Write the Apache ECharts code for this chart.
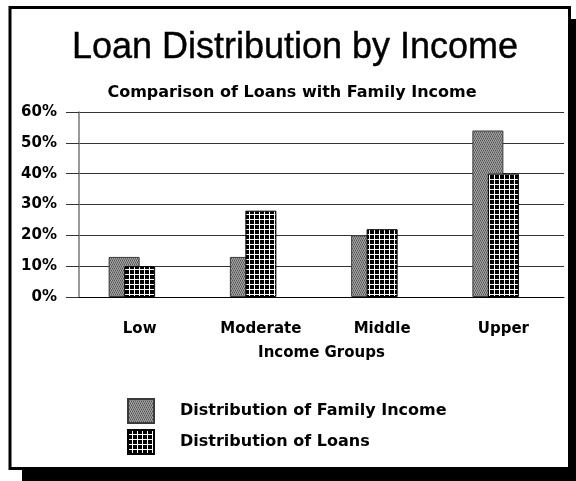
<!DOCTYPE html>
<html>
<head>
<meta charset="utf-8">
<style>
  html, body { margin: 0; padding: 0; background: #ffffff; }
  #chart { width: 576px; height: 481px; }
</style>
<script src="https://cdn.jsdelivr.net/npm/echarts@6/dist/echarts.min.js"></script>
</head>
<body>
<div id="chart"></div>
<script>
// Income groups and the share (%) each series holds in them
const categories = ['Low', 'Moderate', 'Middle', 'Upper'];
const familyIncome = [13, 13, 20, 54];
const loans = [10, 28, 22, 40];
const yTicks = [0, 10, 20, 30, 40, 50, 60];

const LABEL_FONT = '"DejaVu Sans", sans-serif';

// Fine gray stipple used for the family income bars
function stipplePattern() {
  const c = document.createElement('canvas');
  c.width = 4; c.height = 4;
  const g = c.getContext('2d');
  g.fillStyle = '#858585'; g.fillRect(0, 0, 4, 4);
  g.fillStyle = '#555555';
  g.fillRect(0, 0, 1, 1); g.fillRect(2, 0, 1, 1);
  g.fillRect(1, 2, 1, 1); g.fillRect(3, 2, 1, 1);
  g.fillStyle = '#a8a8a8';
  g.fillRect(1, 0, 1, 1); g.fillRect(3, 0, 1, 1);
  g.fillRect(0, 2, 1, 1); g.fillRect(2, 2, 1, 1);
  return c;
}

// Black cells separated by thin white lines for the loan bars
function gridPattern() {
  const c = document.createElement('canvas');
  c.width = 5; c.height = 5;
  const g = c.getContext('2d');
  g.fillStyle = '#ffffff'; g.fillRect(0, 0, 5, 5);
  g.fillStyle = '#000000'; g.fillRect(0, 0, 4, 4);
  return c;
}

const chart = echarts.init(document.getElementById('chart'), null, { renderer: 'canvas' });

const barWidth = 31;

chart.setOption({
  backgroundColor: '#ffffff',
  animation: false,
  graphic: [
    // drop shadow behind the frame
    { type: 'rect', z: -10, silent: true,
      shape: { x: 22, y: 19, width: 570, height: 480 },
      style: { fill: '#000000' } },
    // framed white panel
    { type: 'rect', z: -9, silent: true,
      shape: { x: 10, y: 7.5, width: 559.5, height: 461 },
      style: { fill: '#ffffff', stroke: '#000000', lineWidth: 3 } }
  ],
  title: [
    { text: 'Loan Distribution by Income', left: 290, top: 25, textAlign: 'center',
      textStyle: { fontFamily: '"Liberation Sans", Arial, sans-serif', fontSize: 36,
                   fontWeight: 'normal', color: '#000000',
                   textBorderColor: '#000000', textBorderWidth: 0.4 } },
    { text: 'Comparison of Loans with Family Income', left: 287, top: 80, textAlign: 'center',
      textStyle: { fontFamily: LABEL_FONT, fontSize: 16, fontWeight: 'bold', color: '#000000' } }
  ],
  legend: {
    orient: 'vertical', left: 127, top: 398, padding: 0,
    icon: 'rect',
    itemWidth: 26, itemHeight: 24, itemGap: 5,
    data: ['Distribution of Family Income', 'Distribution of Loans'],
    textStyle: { fontFamily: LABEL_FONT, fontSize: 16, fontWeight: 'bold', color: '#000000',
                 padding: [0, 0, 0, 21] }
  },
  grid: { left: 79, right: 12, top: 112, bottom: 184, containLabel: false },
  xAxis: [
    {
      type: 'category', data: categories,
      name: 'Income Groups', nameLocation: 'middle', nameGap: 49,
      nameTextStyle: { fontFamily: LABEL_FONT, fontSize: 15, fontWeight: 'bold', color: '#000000' },
      axisLine: { lineStyle: { color: '#000000', width: 1 } },
      axisTick: { alignWithLabel: true, length: 12, lineStyle: { color: '#555555' } },
      axisLabel: { margin: 25, fontFamily: LABEL_FONT, fontSize: 15, fontWeight: 'bold', color: '#000000' }
    },
    {
      // small marks at the category boundaries
      type: 'category', data: categories, position: 'bottom',
      axisLine: { show: false },
      axisTick: { length: 2, lineStyle: { color: '#000000', width: 2 } },
      axisLabel: { show: false }
    }
  ],
  yAxis: {
    type: 'value', min: yTicks[0], max: yTicks[yTicks.length - 1], interval: 10,
    axisLine: { show: true, lineStyle: { color: '#777777', width: 1.5 } },
    axisTick: { show: true, length: 13, lineStyle: { color: '#333333' } },
    axisLabel: { margin: 22, formatter: '{value}%', fontFamily: LABEL_FONT, fontSize: 15,
                 fontWeight: 'bold', color: '#000000' },
    splitLine: { lineStyle: { color: '#333333', width: 1 } }
  },
  series: [
    {
      name: 'Distribution of Family Income', type: 'bar', data: familyIncome,
      barWidth: barWidth, barGap: '-50%',
      itemStyle: { color: { image: stipplePattern(), repeat: 'repeat' },
                   borderColor: '#3a3a3a', borderWidth: 1 }
    },
    {
      name: 'Distribution of Loans', type: 'bar', data: loans,
      barWidth: barWidth, barGap: '-50%',
      itemStyle: { color: { image: gridPattern(), repeat: 'repeat' },
                   borderColor: '#000000', borderWidth: 1 }
    },
    {
      // empty slot to the right so the loan bar sits on the category centre
      name: 'spacer', type: 'bar', data: [],
      barWidth: barWidth, barGap: '-50%', silent: true
    }
  ]
});
</script>
</body>
</html>
